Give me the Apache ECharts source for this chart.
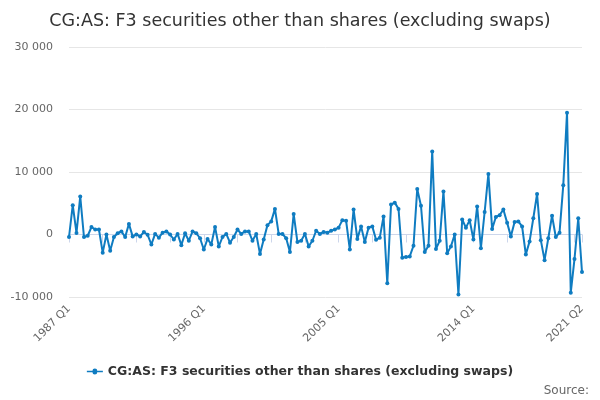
<!DOCTYPE html>
<html>
<head>
<meta charset="utf-8">
<script src="https://cdn.jsdelivr.net/npm/echarts@6/dist/echarts.min.js"></script>
<style>html,body{margin:0;padding:0;background:#fff}#c{width:600px;height:400px}</style>
</head>
<body>
<div id="c"></div>
<script>
var titleText = 'CG:AS: F3 securities other than shares (excluding swaps)';
var seriesName = 'CG:AS: F3 securities other than shares (excluding swaps)';
var startYear = 1987;
var endYear = 2021;
var endQuarter = 2;
var categories = [];
for (var y = startYear; y <= endYear; y++) {
  for (var q = 1; q <= 4; q++) {
    if (y === endYear && q > endQuarter) break;
    categories.push(y + ' Q' + q);
  }
}
var values = [
  -400, 4700, 250, 6100, -400, -200, 1200, 800, 800, -2900,
  0, -2600, -400, 200, 500, -400, 1700, -300, 0, -300,
  400, -50, -1600, 100, -500, 300, 500, 0, -800, 100,
  -1700, 200, -1000, 500, 200, -600, -2400, -700, -1600, 1200,
  -1900, -400, 100, -1300, -400, 800, 100, 500, 500, -1000,
  100, -3100, -800, 1500, 2100, 4100, 100, 100, -600, -2800,
  3300, -1200, -1000, 100, -1900, -1000, 600, 100, 400, 300,
  600, 800, 1100, 2300, 2200, -2400, 4000, -700, 1300, -1200,
  1100, 1300, -850, -500, 2900, -7800, 4800, 5100, 4100, -3700,
  -3600, -3500, -1800, 7300, 4600, -2800, -1800, 13300, -2300, -1000,
  6900, -3000, -1900, 0, -9600, 2400, 1100, 2300, -800, 4500,
  -2200, 3600, 9700, 900, 2800, 3100, 4000, 1900, -300, 2000,
  2100, 1300, -3200, -1100, 2600, 6500, -900, -4100, -600, 3000,
  -400, 300, 7900, 19500, -9300, -3900, 2600, -6000
];
var yMin = -10000, yMax = 30000, yStep = 10000;
var labelEvery = 36, tickEvery = 9;

var chart = echarts.init(document.getElementById('c'));
var last = categories.length - 1;
chart.setOption({
  animation: false,
  textStyle: { fontFamily: 'DejaVu Sans' },
  title: {
    text: titleText, left: 'center', top: 7,
    textStyle: { fontSize: 17.5, fontWeight: 'normal', color: '#333', fontFamily: 'DejaVu Sans' }
  },
  graphic: [{
    type: 'text', right: 11, bottom: 3,
    style: { text: 'Source:', fontSize: 12, fill: '#666', fontFamily: 'DejaVu Sans' }
  }],
  legend: {
    bottom: 17, left: 'center', itemWidth: 16, itemHeight: 8, itemGap: 10,
    textStyle: { fontSize: 12.5, fontWeight: 'bold', color: '#333', fontFamily: 'DejaVu Sans' },
    data: [{ name: seriesName, icon: 'path://M0,3.3H5.6A2.4,2.4 0 0 1 10.4,3.3H16V4.7H10.4A2.4,2.4 0 0 1 5.6,4.7H0Z' }]
  },
  grid: { left: 69, right: 18, top: 47, bottom: 103, containLabel: false, outerBoundsMode: 'none' },
  xAxis: {
    type: 'category', data: categories, boundaryGap: false,
    axisLine: { lineStyle: { color: '#ccd6eb', width: 1 } },
    axisTick: { length: 8, lineStyle: { color: '#ccd6eb' },
      interval: function (i) { return i % tickEvery === 0 || i === last; } },
    axisLabel: { rotate: 45, color: '#666', fontSize: 11, margin: 10,
      interval: function (i) { return i % labelEvery === 0 || i === last; } },
    splitLine: { show: false }
  },
  yAxis: {
    type: 'value', min: yMin, max: yMax, interval: yStep,
    axisLine: { show: false }, axisTick: { show: false },
    axisLabel: { color: '#666', fontSize: 11, margin: 16,
      formatter: function (v) { return String(v).replace(/\B(?=(\d{3})+(?!\d))/g, ' '); } },
    splitLine: { lineStyle: { color: '#e6e6e6' } }
  },
  series: [{
    name: seriesName, type: 'line', data: values,
    symbol: 'circle', symbolSize: 4, showSymbol: true, showAllSymbol: true,
    lineStyle: { color: '#0f7cc1', width: 2 },
    itemStyle: { color: '#0f7cc1' }
  }]
});
</script>
</body>
</html>
